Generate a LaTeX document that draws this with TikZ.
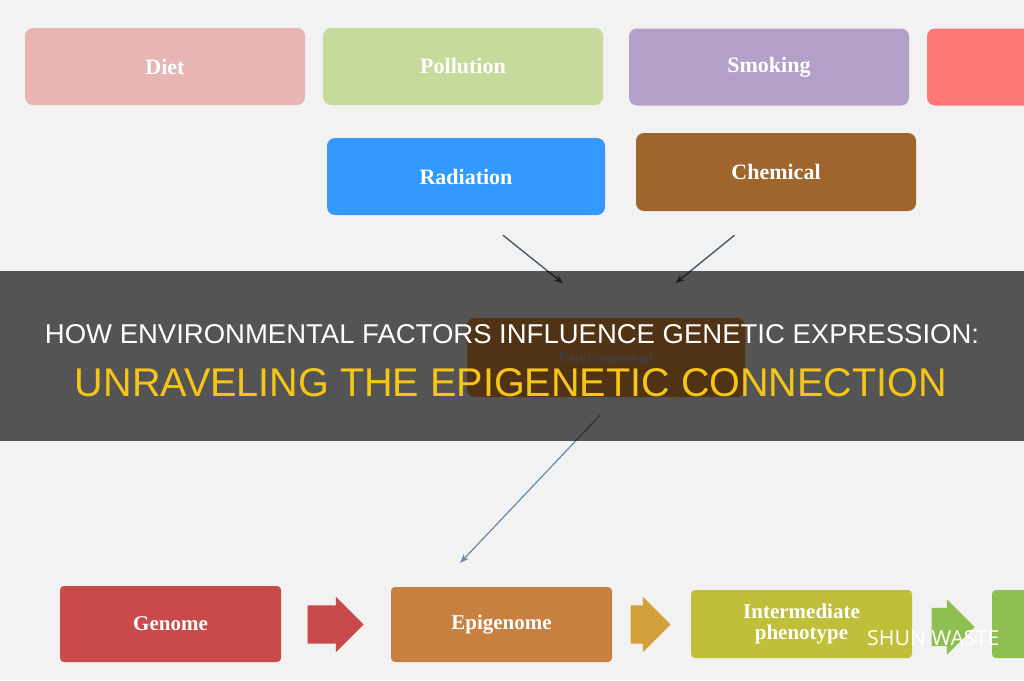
\documentclass[tikz,border=0pt]{standalone}
\usepackage{fontspec}
\setmainfont{Liberation Serif}
\newfontfamily\titlefont{Liberation Sans}
\newfontfamily\markfont{Open Sans}
\usetikzlibrary{arrows.meta,shapes.arrows,positioning}

\definecolor{bg}{HTML}{F2F2F2}
\definecolor{dietc}{HTML}{E8B4B4}
\definecolor{pollc}{HTML}{C5DA9B}
\definecolor{smokc}{HTML}{B3A0C8}
\definecolor{redc}{HTML}{FF7878}
\definecolor{radc}{HTML}{3399FF}
\definecolor{chemc}{HTML}{A0652D}
\definecolor{envc}{HTML}{E8903A}
\definecolor{genc}{HTML}{C94A4A}
\definecolor{epic}{HTML}{C88040}
\definecolor{intc}{HTML}{BFBF3A}
\definecolor{grnc}{HTML}{8DC050}
\definecolor{goldc}{HTML}{D4A03C}
\definecolor{arrc}{HTML}{4A5A6A}
\definecolor{arrb}{HTML}{6A88A8}
\definecolor{titley}{HTML}{F5C518}

\begin{document}
\begin{tikzpicture}[x=1pt,y=-1pt,
    box/.style={rounded corners=8pt,minimum width=280pt,minimum height=77pt,text=white,font=\fontsize{22}{24}\selectfont\bfseries},
    lowbox/.style={rounded corners=4pt,minimum width=221pt,minimum height=76pt,text=white,align=center,font=\fontsize{21}{21}\selectfont\bfseries},
    fat/.style={single arrow,minimum width=55pt,single arrow head extend=8.5pt,inner xsep=0pt,inner ysep=19pt},
    thin/.style={-{Stealth[length=9pt,width=7pt]},arrc,line width=1.4pt}]
    \useasboundingbox (0,0) rectangle (1024,680);
    \fill[bg] (0,0) rectangle (1024,680);

    % causes
    \node[box,fill=dietc] (diet) at (165,66.5) {Diet};
    \node[box,fill=pollc] (poll) at (463,66.5) {Pollution};
    \node[box,fill=smokc] (smok) at (769,67) {Smoking};
    \node[box,fill=redc] (more) at (1067,67) {};
    \node[box,fill=radc,minimum width=278pt] (rad) at (466,176.5) {Radiation};
    \node[box,fill=chemc,minimum height=78pt] (chem) at (776,172) {Chemical};
    \node[box,fill=envc,minimum width=278pt,minimum height=79pt,text=white!70!black,font=\fontsize{17}{18}\selectfont\bfseries] (env) at (606,357.5) {Environment};

    % chain
    \node[lowbox,fill=genc] (gen) at (170.5,624) {Genome};
    \node[lowbox,fill=epic,minimum height=75pt] (epi) at (501.5,624.5) {Epigenome};
    \node[lowbox,fill=intc,minimum height=68pt] (inter) at (801.5,624) {Intermediate\\phenotype};
    \node[lowbox,fill=grnc,minimum height=68pt] (pheno) at (1102.5,624) {};
    \node[fat,fill=genc,minimum height=56pt] (f1) at (326,624.5) {};
    \node[fat,fill=goldc,minimum height=40pt] (f2) at (641,624.5) {};
    \node[fat,fill=grnc,minimum height=43pt] (f3) at (943.5,627) {};

    \draw[thin,shorten <=32pt,shorten >=55pt] ([xshift=12pt]rad.south) -- (env.north);
    \draw[thin,shorten <=38pt,shorten >=55pt] ([xshift=-12pt]chem.south) -- ([xshift=27pt]env.north);
    \draw[thin,arrb,line width=1.2pt,shorten <=25pt,shorten >=33pt] ([xshift=11pt]env.south) -- ([xshift=-64pt]epi.north);

    % title band
    \fill[black,opacity=0.65] (0,271) rectangle (1024,441);
    \node[anchor=base,inner sep=0pt,text=white] (t1) at (512,343) {\resizebox{934pt}{19pt}{\titlefont HOW ENVIRONMENTAL FACTORS INFLUENCE GENETIC EXPRESSION:}};
    \node[anchor=base,inner sep=0pt,text=titley] (t2) at (511,396) {\resizebox{872pt}{28pt}{\titlefont UNRAVELING THE EPIGENETIC CONNECTION}};

    \node[anchor=base west,inner sep=0pt,text=white] (mark) at (867,645) {\resizebox{132pt}{15pt}{\markfont SHUN WASTE}};
\end{tikzpicture}
\end{document}
